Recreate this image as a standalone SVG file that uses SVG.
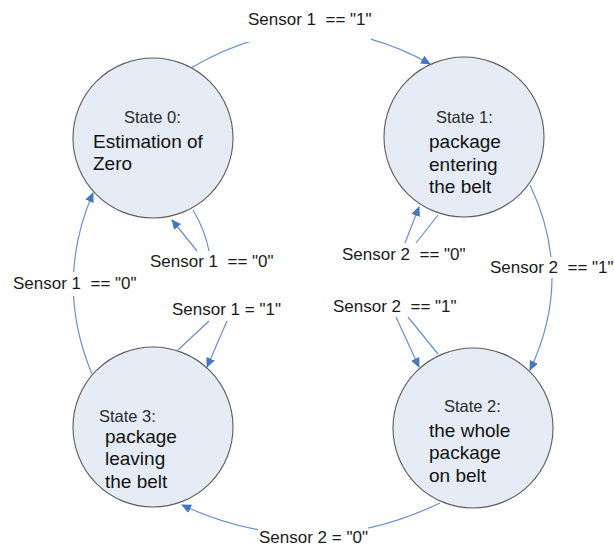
<svg xmlns="http://www.w3.org/2000/svg" width="614" height="547" viewBox="0 0 614 547">
  <style>
    .state { fill: #e5ecf6; stroke: #5c5c5c; stroke-width: 1.1; }
    .title { font-family: "Liberation Sans", Arial, sans-serif; font-size: 16.5px; fill: #2a2a2a; }
    .body { font-family: "Liberation Sans", Arial, sans-serif; font-size: 19px; fill: #111; }
    .edge { fill: none; stroke: #6690cf; stroke-width: 1.2; }
    .lbl { font-family: "Liberation Sans", Arial, sans-serif; font-size: 17px; fill: #1a1a1a; white-space: pre; }
    .lblbg { fill: #ffffff; }
  </style>
  <defs>
    <marker id="arrow" viewBox="0 0 10 10" refX="9" refY="5" markerWidth="10" markerHeight="10" markerUnits="userSpaceOnUse" orient="auto">
      <path d="M0,0.5 L10,5 L0,9.5 Z" fill="#4677c2"/>
    </marker>
  </defs>

  <!-- transitions -->
  <g id="connectors">
    <!-- 0 -> 1 -->
    <path class="edge" d="M191,68 Q310,-3 430,64" marker-end="url(#arrow)"/>
    <!-- 1 -> 2 -->
    <path class="edge" d="M530,185 Q574,277 530,370" marker-end="url(#arrow)"/>
    <!-- 2 -> 3 -->
    <path class="edge" d="M440,503 Q311,565 182,505" marker-end="url(#arrow)"/>
    <!-- 3 -> 0 -->
    <path class="edge" d="M92,374 Q54,283 93,193" marker-end="url(#arrow)"/>
    <!-- self loops -->
    <path class="edge" d="M193,210 Q205,230 209,251 M197,251 L172,220" marker-end="url(#arrow)"/>
    <path class="edge" d="M438,215 L416,243 M405,243 L419,207" marker-end="url(#arrow)"/>
    <path class="edge" d="M438,354 L408,317 M396,317 L419,367" marker-end="url(#arrow)"/>
    <path class="edge" d="M178,350 L209,321 M227,321 L207,367" marker-end="url(#arrow)"/>
  </g>

  <!-- transition labels -->
  <g id="labels">
    <rect class="lblbg" x="247" y="8" width="124" height="34"/>
    <text class="lbl" x="248" y="25">Sensor 1  == "1"</text>
    <rect class="lblbg" x="488" y="257" width="126" height="21"/>
    <text class="lbl" x="490" y="273" font-size="16.5">Sensor 2  == "1"</text>
    <rect class="lblbg" x="258" y="521" width="110" height="26"/>
    <text class="lbl" x="259" y="543">Sensor 2 = "0"</text>
    <rect class="lblbg" x="12" y="272" width="124" height="24"/>
    <text class="lbl" x="13" y="289">Sensor 1  == "0"</text>
    <text class="lbl" x="150" y="267">Sensor 1  == "0"</text>
    <text class="lbl" x="342" y="260">Sensor 2  == "0"</text>
    <text class="lbl" x="333" y="312">Sensor 2  == "1"</text>
    <text class="lbl" x="172" y="315">Sensor 1 = "1"</text>
  </g>

  <g id="state0">
    <circle class="state" cx="153" cy="138" r="80"/>
    <text class="title" x="124" y="123">State 0:</text>
    <text class="body" x="93" y="148">Estimation of</text>
    <text class="body" x="93" y="170">Zero</text>
  </g>

  <g id="state1">
    <circle class="state" cx="464" cy="137" r="80"/>
    <text class="title" x="436" y="123">State 1:</text>
    <text class="body" x="429" y="148">package</text>
    <text class="body" x="429" y="171">entering</text>
    <text class="body" x="429" y="193">the belt</text>
  </g>

  <g id="state2">
    <circle class="state" cx="473" cy="428" r="80"/>
    <text class="title" x="444" y="412">State 2:</text>
    <text class="body" x="429" y="437">the whole</text>
    <text class="body" x="429" y="459">package</text>
    <text class="body" x="429" y="482">on belt</text>
  </g>

  <g id="state3">
    <circle class="state" cx="153" cy="427" r="80"/>
    <text class="title" x="99" y="422">State 3:</text>
    <text class="body" x="105" y="443">package</text>
    <text class="body" x="105" y="465">leaving</text>
    <text class="body" x="105" y="488">the belt</text>
  </g>
</svg>
